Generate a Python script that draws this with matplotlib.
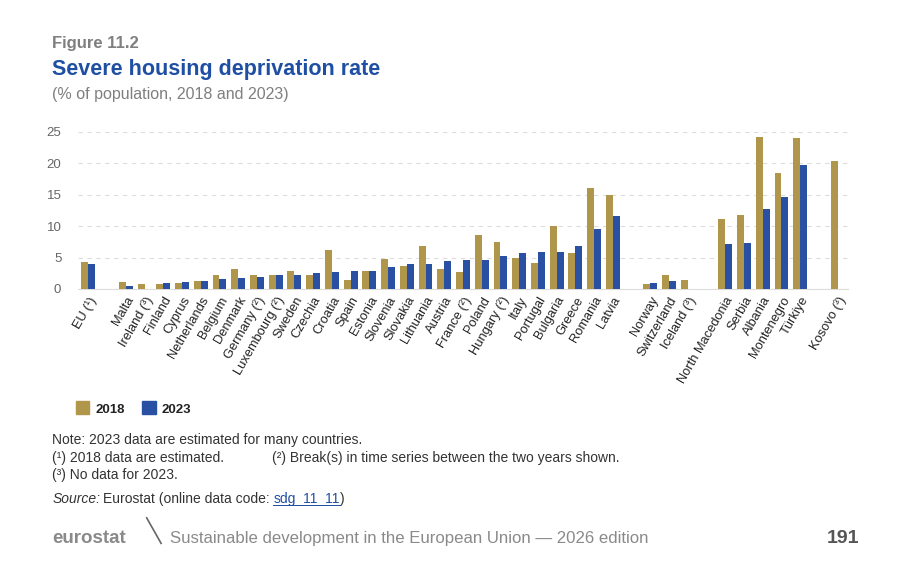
import matplotlib.pyplot as plt
import numpy as np

# slot layout: None = empty slot between country groups
countries = ['EU (¹)', None,
             'Malta', 'Ireland (³)', 'Finland', 'Cyprus', 'Netherlands', 'Belgium', 'Denmark',
             'Germany (²)', 'Luxembourg (²)', 'Sweden', 'Czechia', 'Croatia', 'Spain', 'Estonia',
             'Slovenia', 'Slovakia', 'Lithuania', 'Austria', 'France (²)', 'Poland', 'Hungary (²)',
             'Italy', 'Portugal', 'Bulgaria', 'Greece', 'Romania', 'Latvia', None,
             'Norway', 'Switzerland', 'Iceland (³)', None,
             'North Macedonia', 'Serbia', 'Albania', 'Montenegro', 'Türkiye', None,
             'Kosovo (³)']

v2018 = [4.3, None,
         1.1, 0.8, 0.8, 1.0, 1.2, 2.2, 3.2,
         2.3, 2.2, 2.8, 2.3, 6.2, 1.4, 2.8,
         4.8, 3.7, 6.9, 3.2, 2.65, 8.6, 7.5,
         4.9, 4.1, 10.1, 5.8, 16.1, 15.0, None,
         0.8, 2.2, 1.5, None,
         11.1, 11.8, 24.2, 18.4, 24.0, None,
         20.4]

v2023 = [4.0, None,
         0.4, None, 1.0, 1.1, 1.2, 1.6, 1.7,
         1.9, 2.2, 2.2, 2.5, 2.7, 2.9, 2.8,
         3.5, 4.0, 4.0, 4.4, 4.6, 4.6, 5.3,
         5.8, 5.9, 5.9, 6.9, 9.6, 11.6, None,
         1.0, 1.2, None, None,
         7.1, 7.4, 12.8, 14.6, 19.8, None,
         None]

gold = '#B0964A'
blue = '#2950A2'
grey = '#7f7f7f'
text_dark = '#333333'

plt.rcParams['font.family'] = ['Liberation Sans', 'DejaVu Sans']

fig = plt.figure(figsize=(9, 5.66), dpi=100)
ax = fig.add_axes([0.0867, 0.4894, 0.8555, 0.2774])

x = np.arange(len(countries))
w = 0.37
for i in range(len(countries)):
    if v2018[i] is not None:
        ax.bar(x[i] - w / 2, v2018[i], width=w, color=gold, zorder=3)
    if v2023[i] is not None:
        ax.bar(x[i] + w / 2, v2023[i], width=w, color=blue, zorder=3)

ax.set_xlim(-0.55, len(countries) - 0.45)
ax.set_ylim(0, 25)
ax.set_yticks([0, 5, 10, 15, 20, 25])
ax.tick_params(axis='y', length=0, labelsize=9.5, labelcolor='#666666', pad=12)
ax.yaxis.grid(True, linestyle=(0, (4, 4)), color='#dddddd', linewidth=0.8, zorder=0)
for s in ['top', 'right', 'left']:
    ax.spines[s].set_visible(False)
ax.spines['bottom'].set_color('#dddddd')

ticks = [i for i, c in enumerate(countries) if c is not None]
ax.set_xticks(ticks)
ax.set_xticklabels([countries[i] for i in ticks], rotation=60, ha='right',
                   rotation_mode='anchor', fontsize=9.3, color='#222222')
ax.tick_params(axis='x', length=0, pad=4)

# titles
fig.text(0.058, 0.915, 'Figure 11.2', fontsize=12, fontweight='bold', color=grey)
fig.text(0.058, 0.867, 'Severe housing deprivation rate', fontsize=15.5,
         fontweight='bold', color='#1F4FA3')
fig.text(0.058, 0.825, '(% of population, 2018 and 2023)', fontsize=11.5, color=grey)

# legend
fig.patches.append(plt.Rectangle((0.084, 0.268), 0.015, 0.024, transform=fig.transFigure,
                                 color=gold))
fig.text(0.106, 0.271, '2018', fontsize=9.5, fontweight='bold', color='#222222')
fig.patches.append(plt.Rectangle((0.158, 0.268), 0.015, 0.024, transform=fig.transFigure,
                                 color=blue))
fig.text(0.180, 0.271, '2023', fontsize=9.5, fontweight='bold', color='#222222')

# notes
fs = 10
fig.text(0.058, 0.215, 'Note: 2023 data are estimated for many countries.', fontsize=fs,
         color=text_dark)
fig.text(0.058, 0.184, '(¹) 2018 data are estimated.', fontsize=fs, color=text_dark)
fig.text(0.302, 0.184, '(²) Break(s) in time series between the two years shown.',
         fontsize=fs, color=text_dark)
fig.text(0.058, 0.153, '(³) No data for 2023.', fontsize=fs, color=text_dark)
t = fig.text(0.058, 0.112, 'Source:', fontsize=fs, style='italic', color=text_dark)
fig.canvas.draw()
r = fig.canvas.get_renderer()
bb = t.get_window_extent(r).transformed(fig.transFigure.inverted())
t2 = fig.text(bb.x1 + 0.003, 0.112, 'Eurostat (online data code: ', fontsize=fs,
              color=text_dark)
bb2 = t2.get_window_extent(r).transformed(fig.transFigure.inverted())
t3 = fig.text(bb2.x1, 0.112, 'sdg_11_11', fontsize=fs, color='#1F4FA3')
bb3 = t3.get_window_extent(r).transformed(fig.transFigure.inverted())
fig.add_artist(plt.Line2D([bb2.x1, bb3.x1], [0.107, 0.107], color='#1F4FA3', linewidth=0.7))
fig.text(bb3.x1, 0.112, ')', fontsize=fs, color=text_dark)

# footer
fig.text(0.058, 0.040, 'eurostat', fontsize=13.5, fontweight='bold', color='#8a8a8a')
fig.add_artist(plt.Line2D([0.163, 0.179], [0.085, 0.040], color='#666666', linewidth=1.2))
fig.text(0.189, 0.040, 'Sustainable development in the European Union — 2026 edition',
         fontsize=12.1, color='#8a8a8a')
fig.text(0.955, 0.040, '191', fontsize=14, fontweight='bold', color='#555555', ha='right')

fig.savefig('out.png', dpi=100)
